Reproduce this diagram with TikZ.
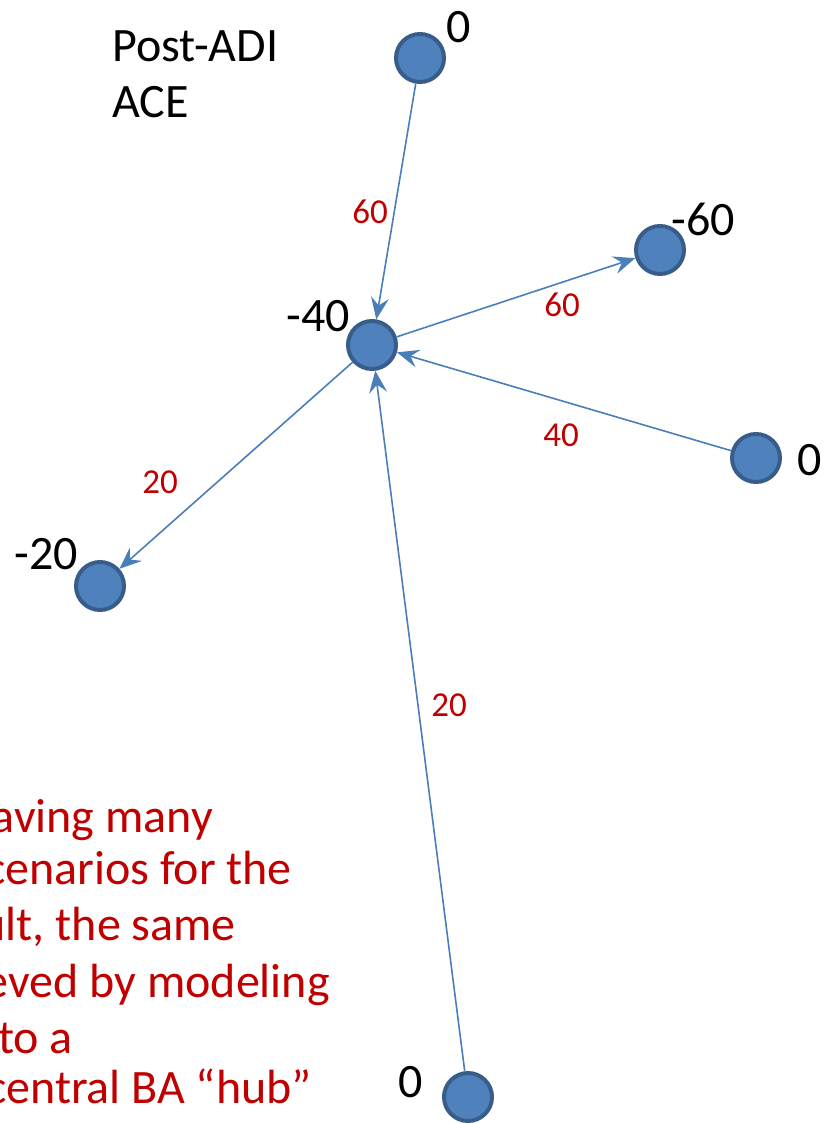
\documentclass[tikz,border=0pt]{standalone}
\usepackage{fontspec}
\setmainfont{Carlito}
\usetikzlibrary{arrows.meta}
\definecolor{nodefill}{HTML}{4F81BD}
\definecolor{nodeline}{HTML}{385D8A}
\definecolor{edgecol}{HTML}{4A7EBB}
\definecolor{labred}{HTML}{C00000}
\tikzset{
  vtx/.style={circle, minimum size=48pt, inner sep=0pt, fill=nodefill, draw=nodeline, line width=4pt},
  big/.style={font=\fontsize{48}{58}\selectfont, inner sep=0pt, text=black},
  wlab/.style={font=\fontsize{35}{42}\selectfont, inner sep=0pt, text=labred},
  note/.style={font=\fontsize{48}{58}\selectfont, inner sep=0pt, text=labred, anchor=base east},
  edge/.style={draw=edgecol, line width=1.6pt, -{Stealth[length=22pt, width=18pt, inset=8pt]}}
}
\begin{document}
\begin{tikzpicture}[x=1pt, y=-1pt]
\useasboundingbox (0,0) rectangle (833,1124);
\clip (0,0) rectangle (833,1124);
% nodes
\node[vtx] (top) at (420,58) {};
\node[vtx] (ctr) at (372,345) {};
\node[vtx] (ur) at (660,250) {};
\node[vtx] (rt) at (756,458) {};
\node[vtx] (lf) at (100,586) {};
\node[vtx] (bt) at (468,1097) {};
% node values
\node[big] (vtop) at (459,27) {0};
\node[big] (vctr) at (318,316) {-40};
\node[big] (vur) at (703,219) {-60};
\node[big] (vrt) at (810,460) {0};
\node[big] (vlf) at (46,554) {-20};
\node[big] (vbt) at (411,1082) {0};
% title
\node[big, anchor=base west] (t1) at (112,62) {Post-ADI};
\node[big, anchor=base west] (t2) at (112,117) {ACE};
% edges
\draw[edge] (top) -- (ctr);
\draw[edge] (ctr) -- (ur);
\draw[edge] (rt) -- (ctr);
\draw[edge] (ctr) -- (lf);
\draw[edge] (bt) -- (ctr);
% edge labels
\node[wlab] (l1) at (370,212) {60};
\node[wlab] (l2) at (562,305) {60};
\node[wlab] (l3) at (561,435) {40};
\node[wlab] (l4) at (160,482) {20};
\node[wlab] (l5) at (449,705) {20};
% note
\node[note] (n1) at (213,832) {aving many};
\node[note] (n2) at (292,884) {cenarios for the};
\node[note] (n3) at (236,940) {ult, the same};
\node[note] (n4) at (330,997) {eved by modeling};
\node[note] (n5) at (73,1053) {to a};
\node[note] (n6) at (312,1103) {central BA “hub”};
\end{tikzpicture}
\end{document}
